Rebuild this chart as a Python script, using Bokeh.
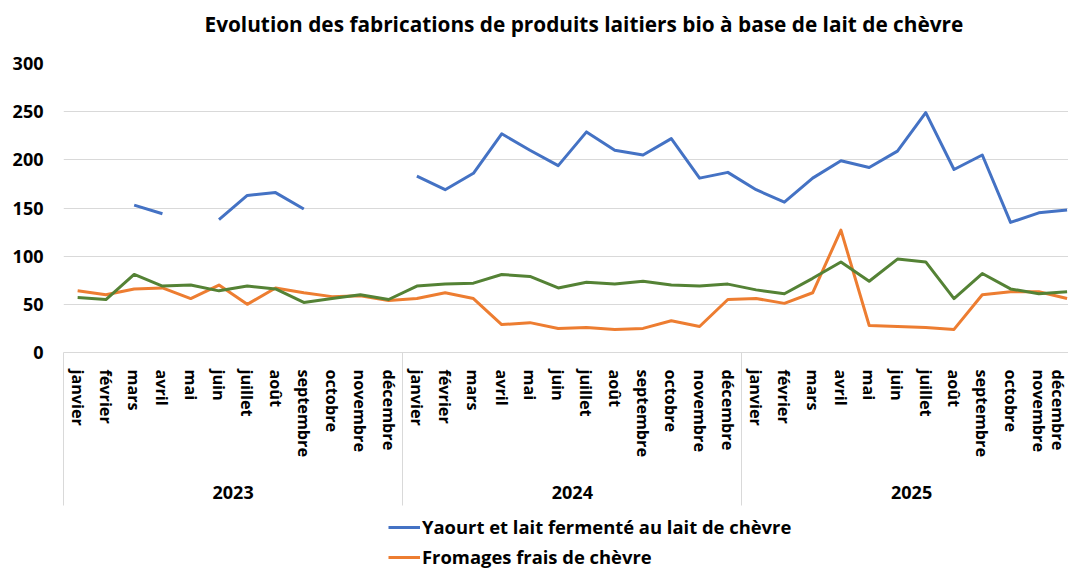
import numpy as np
from bokeh.plotting import figure
from bokeh.layouts import column
from bokeh.models import (ColumnDataSource, Range1d, LinearAxis, FixedTicker,
                          Legend, LegendItem, Title)
from bokeh.embed import file_html
from bokeh.resources import INLINE

FONT = "Open Sans"
W = 1068

titre = "Evolution des fabrications de produits laitiers bio à base de lait de chèvre"
years = ["2023", "2024", "2025"]
months = ["janvier", "février", "mars", "avril", "mai", "juin", "juillet",
          "août", "septembre", "octobre", "novembre", "décembre"]

yaourt = [None, None, 153, 144, None, 138, 163, 166, 149, None, None, None,
          183, 169, 186, 227, 210, 194, 229, 210, 205, 222, 181, 187,
          169, 156, 181, 199, 192, 209, 249, 190, 205, 135, 145, 148]
fromages_frais = [64, 60, 66, 67, 56, 70, 50, 67, 62, 58, 59, 54,
                  56, 62, 56, 29, 31, 25, 26, 24, 25, 33, 27, 55,
                  56, 51, 62, 127, 28, 27, 26, 24, 60, 63, 63, 56]
serie3 = [57, 55, 81, 69, 70, 64, 69, 66, 52, 56, 60, 55,
          69, 71, 72, 81, 79, 67, 73, 71, 74, 70, 69, 71,
          65, 61, 77, 94, 74, 97, 94, 56, 82, 66, 61, 63]

series_names = ["Yaourt et lait fermenté au lait de chèvre", "Fromages frais de chèvre"]
colors = ["#4472C4", "#ED7D31", "#548235"]

labels_mois = [m for y in years for m in months]
idx = list(range(len(labels_mois)))

def arr(v):
    return np.array([np.nan if x is None else x for x in v], dtype=float)

src = ColumnDataSource(dict(x=idx, yaourt=arr(yaourt), frais=arr(fromages_frais), s3=arr(serie3)))

def strip(h):
    f = figure(width=W, height=h, output_backend="svg", toolbar_location=None,
               x_range=Range1d(0, 1), y_range=Range1d(1000, 1001),
               x_axis_location=None, y_axis_location=None, min_border=0)
    f.outline_line_color = None
    f.xgrid.visible = False
    f.ygrid.visible = False
    return f

# ---- title strip
p0 = strip(47)
p0.title = Title(text=titre, align="left", offset=141, standoff=14,
                 text_font=FONT, text_font_size="20.8px",
                 text_font_style="bold", text_color="#000000")

# ---- main chart
p = figure(width=W, height=463, output_backend="svg", toolbar_location=None,
           x_range=Range1d(-0.5, 35.05), y_range=Range1d(0, 300),
           x_axis_location=None, min_border_left=63, min_border_right=0,
           min_border_top=16, min_border_bottom=158)
p.outline_line_color = None
p.xgrid.visible = False

ya = p.yaxis[0]
ya.ticker = FixedTicker(ticks=[0, 50, 100, 150, 200, 250, 300])
ya.axis_line_color = None
ya.major_tick_line_color = None
ya.minor_tick_line_color = None
ya.major_tick_out = 0
ya.minor_tick_out = 0
ya.major_label_standoff = 20
ya.major_label_text_font = FONT
ya.major_label_text_font_size = "18px"
ya.major_label_text_font_style = "bold"
ya.major_label_text_color = "#000000"
p.ygrid.grid_line_color = "#d9d9d9"
p.ygrid.grid_line_width = 1

# month axis; minor ticks draw the year separators below the axis
ma = LinearAxis(ticker=FixedTicker(ticks=idx, minor_ticks=[-0.5, 11.5, 23.5]),
                major_label_overrides={i: labels_mois[i] for i in idx})
ma.major_label_orientation = "vertical"
ma.axis_line_color = "#d9d9d9"
ma.major_tick_line_color = None
ma.major_tick_out = 0
ma.major_tick_in = 0
ma.minor_tick_line_color = "#d9d9d9"
ma.minor_tick_out = 153
ma.minor_tick_in = 0
ma.major_label_standoff = 17 - 153
ma.major_label_text_font = FONT
ma.major_label_text_font_size = "16.2px"
ma.major_label_text_font_style = "bold"
ma.major_label_text_color = "#000000"
p.add_layout(ma, "below")

ticks_annees = [5.5, 17.5, 29.5]
yr = LinearAxis(ticker=FixedTicker(ticks=ticks_annees),
                major_label_overrides={t: a for t, a in zip(ticks_annees, years)})
yr.axis_line_color = None
yr.major_tick_line_color = None
yr.minor_tick_line_color = None
yr.major_tick_out = 0
yr.major_tick_in = 0
yr.minor_tick_out = 0
yr.minor_tick_in = 0
yr.major_label_standoff = 26
yr.major_label_text_font = FONT
yr.major_label_text_font_size = "18px"
yr.major_label_text_font_style = "bold"
yr.major_label_text_color = "#000000"
p.add_layout(yr, "below")

r1 = p.line("x", "yaourt", source=src, line_color=colors[0], line_width=3, line_join="round")
r2 = p.line("x", "frais", source=src, line_color=colors[1], line_width=3, line_join="round")
r3 = p.line("x", "s3", source=src, line_color=colors[2], line_width=3, line_join="round")

# ---- legend strip (same series, outside its visible range; only the legend shows)
p2 = strip(61)
l1 = p2.line("x", "yaourt", source=src, line_color=colors[0], line_width=3)
l2 = p2.line("x", "frais", source=src, line_color=colors[1], line_width=3)
legend = Legend(items=[LegendItem(label=series_names[0], renderers=[l1]),
                       LegendItem(label=series_names[1], renderers=[l2])],
                location=(325, 2), orientation="vertical",
                border_line_color=None, background_fill_alpha=0,
                padding=0, margin=0, spacing=5, glyph_width=32, glyph_height=24,
                label_height=24, label_standoff=2,
                label_text_font=FONT, label_text_font_size="18.4px",
                label_text_font_style="bold", label_text_color="#000000")
p2.add_layout(legend, "center")

layout = column(p0, p, p2, spacing=0)
open("out.html", "w").write(file_html(layout, INLINE))
